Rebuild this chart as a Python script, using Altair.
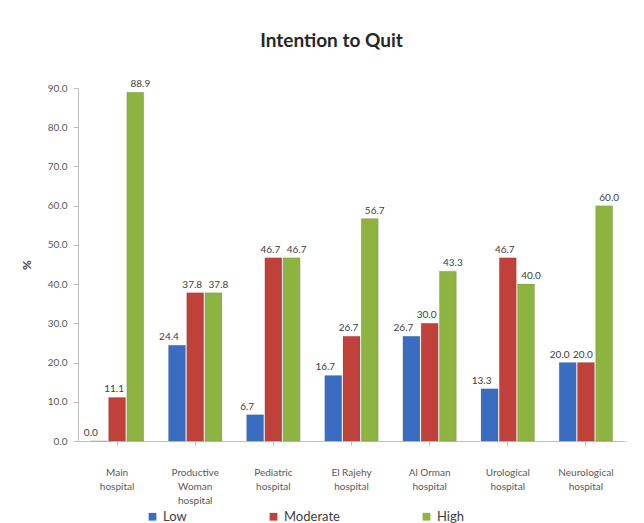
import altair as alt
import pandas as pd

hospitals = ["Main hospital", "Productive Woman hospital", "Pediatric hospital",
             "El Rajehy hospital", "Al Orman hospital", "Urological hospital",
             "Neurological hospital"]
levels = ["Low", "Moderate", "High"]
low = [0.0, 24.4, 6.7, 16.7, 26.7, 13.3, 20.0]
moderate = [11.1, 37.8, 46.7, 26.7, 30.0, 46.7, 20.0]
high = [88.9, 37.8, 46.7, 56.7, 43.3, 40.0, 60.0]
colors = ["#3A6DC2", "#C0403A", "#8DB440"]

rows = []
for i, h in enumerate(hospitals):
    for lev, vals in zip(levels, [low, moderate, high]):
        rows.append({"Hospital": h, "Level": lev, "Value": vals[i]})
df = pd.DataFrame(rows)

label_expr = ("split(replace(replace(datum.label, 'Productive ', 'Productive|'), "
              "' hospital', '|hospital'), '|')")

x = alt.X("Hospital:N", sort=hospitals, title=None,
          scale=alt.Scale(paddingInner=0.3, paddingOuter=0.15),
          axis=alt.Axis(labelAngle=0, labelExpr=label_expr, labelColor="#595959",
                        labelFont="Lato", labelFontSize=10, labelPadding=22,
                        labelLineHeight=14, domainColor="#BFBFBF", tickColor="#BFBFBF",
                        tickSize=4))
xo = alt.XOffset("Level:N", sort=levels, scale=alt.Scale(paddingInner=0.0))
y = alt.Y("Value:Q", title="%",
          scale=alt.Scale(domain=[0, 90], nice=False),
          axis=alt.Axis(values=list(range(0, 91, 10)), format=".1f", grid=False,
                        labelColor="#595959", labelFont="Lato", labelFontSize=10,
                        labelPadding=6, domainColor="#BFBFBF", tickColor="#BFBFBF",
                        tickSize=5, titleFont="Lato", titleFontSize=12,
                        titleColor="#404040", titleFontWeight="bold",
                        titlePadding=14))
color = alt.Color("Level:N", sort=levels,
                  scale=alt.Scale(domain=levels, range=colors),
                  legend=alt.Legend(title=None, orient="none", legendX=68,
                                    legendY=422, direction="horizontal",
                                    symbolType="square", symbolSize=60,
                                    labelFont="Lato", labelFontSize=13,
                                    labelColor="#404040", columnPadding=80,
                                    symbolStrokeWidth=0))

bars = alt.Chart(df).mark_bar(size=17, stroke="#555555", strokeOpacity=0.25,
                              strokeWidth=0.6).encode(x=x, xOffset=xo, y=y, color=color)

shifts = {"Low": -8, "Moderate": -3, "High": 5}
text_layers = []
for lev in levels:
    text_layers.append(
        alt.Chart(df).transform_filter(alt.datum.Level == lev)
        .mark_text(dy=-8, dx=shifts[lev], font="Lato", fontSize=10, color="#404040")
        .encode(x=x, xOffset=xo, y=y, text=alt.Text("Value:Q", format=".1f"))
    )

chart = alt.layer(bars, *text_layers).properties(
    width=547, height=353,
    title=alt.TitleParams("Intention to Quit", font="Lato", fontSize=19,
                          fontWeight="bold", color="#262626", offset=28, dx=-20),
    autosize=alt.AutoSizeParams(type="none"),
    padding={"left": 78, "top": 88, "right": 19, "bottom": 82},
    background="white",
).configure_view(stroke=None)

chart.save("out.html", embed_options={"renderer": "svg", "actions": False})
